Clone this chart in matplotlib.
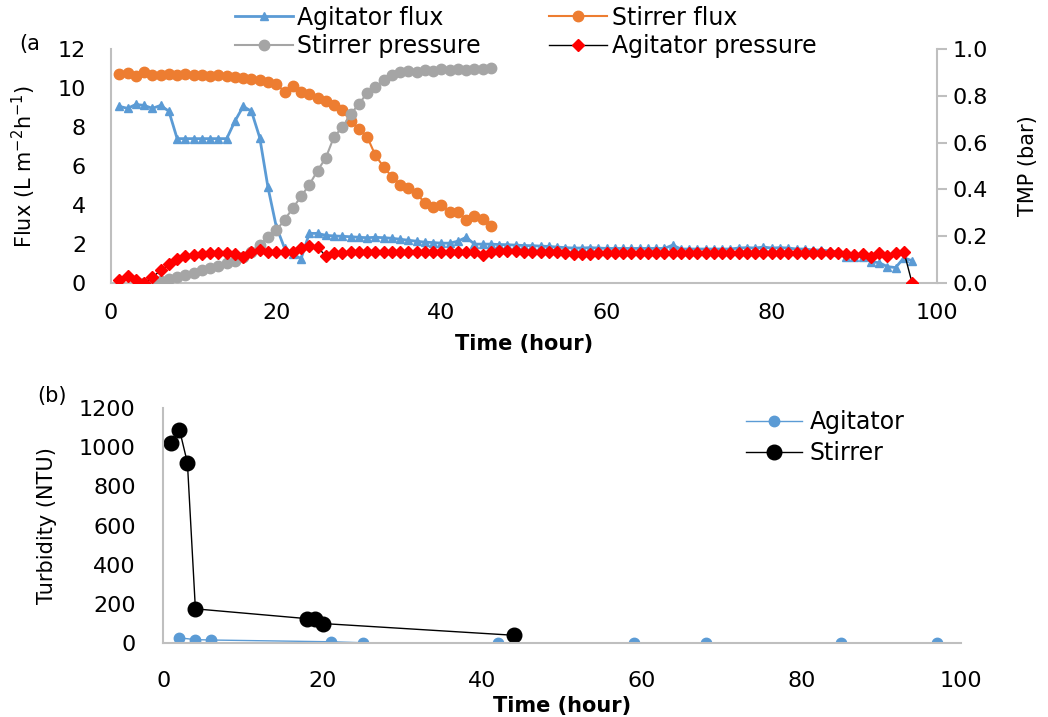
import numpy as np
import matplotlib
matplotlib.use("Agg")
import matplotlib.pyplot as plt

plt.rcParams['font.family'] = ['DejaVu Sans']

# ---- panel (a) data ----
agit_hours = np.arange(1, 98)
agit_flux = [9.05, 8.95, 9.15, 9.1, 8.95, 9.1, 8.8, 7.4, 7.4, 7.4,
             7.4, 7.4, 7.4, 7.4, 8.3, 9.05, 8.8, 7.45, 4.9, 2.9,
             1.8, 1.5, 1.25, 2.55, 2.55, 2.45, 2.42, 2.4, 2.38, 2.35,
             2.33, 2.35, 2.33, 2.3, 2.25, 2.2, 2.15, 2.1, 2.08, 2.05,
             2.05, 2.15, 2.35, 2.0, 2.0, 2.0, 1.98, 1.97, 1.95, 1.93,
             1.92, 1.9, 1.88, 1.85, 1.82, 1.8, 1.8, 1.82, 1.8, 1.78,
             1.78, 1.78, 1.78, 1.78, 1.78, 1.78, 1.78, 1.95, 1.75, 1.75,
             1.75, 1.75, 1.75, 1.75, 1.75, 1.8, 1.82, 1.8, 1.85, 1.8,
             1.82, 1.8, 1.75, 1.75, 1.7, 1.7, 1.65, 1.6, 1.35, 1.35,
             1.35, 1.1, 1.05, 0.85, 0.8, 1.3, 1.15]
agit_tmp = [0.015, 0.03, 0.015, 0.0, 0.025, 0.055, 0.08, 0.105, 0.115, 0.12,
            0.125, 0.13, 0.13, 0.13, 0.125, 0.11, 0.135, 0.14, 0.135, 0.135,
            0.135, 0.135, 0.15, 0.16, 0.155, 0.115, 0.13, 0.13, 0.132, 0.133,
            0.133, 0.133, 0.133, 0.134, 0.134, 0.134, 0.134, 0.135, 0.135, 0.135,
            0.135, 0.135, 0.135, 0.135, 0.12, 0.135, 0.138, 0.137, 0.136, 0.135,
            0.135, 0.134, 0.133, 0.132, 0.13, 0.125, 0.123, 0.125, 0.127, 0.127,
            0.127, 0.127, 0.127, 0.127, 0.127, 0.127, 0.127, 0.127, 0.127, 0.127,
            0.127, 0.127, 0.127, 0.127, 0.127, 0.127, 0.127, 0.127, 0.127, 0.127,
            0.127, 0.127, 0.127, 0.127, 0.127, 0.127, 0.127, 0.127, 0.125, 0.12,
            0.125, 0.11, 0.128, 0.115, 0.128, 0.135, 0.0]

stir_hours = np.arange(1, 47)
stir_flux = [10.7, 10.75, 10.6, 10.8, 10.65, 10.68, 10.7, 10.68, 10.7, 10.68,
             10.65, 10.62, 10.65, 10.6, 10.55, 10.5, 10.45, 10.4, 10.3, 10.2,
             9.8, 10.1, 9.8, 9.7, 9.5, 9.35, 9.1, 8.85, 8.3, 7.9,
             7.5, 6.55, 5.95, 5.45, 5.05, 4.85, 4.6, 4.1, 3.9, 4.0,
             3.65, 3.65, 3.25, 3.45, 3.3, 2.95]

stir_p_hours = np.arange(4, 47)
stir_tmp = [0.0, 0.005, 0.01, 0.02, 0.025, 0.035, 0.045, 0.055, 0.065, 0.075,
            0.085, 0.095, 0.11, 0.135, 0.165, 0.195, 0.225, 0.27, 0.32, 0.37,
            0.42, 0.48, 0.535, 0.625, 0.665, 0.72, 0.765, 0.81, 0.835, 0.865,
            0.89, 0.9, 0.905, 0.9, 0.91, 0.905, 0.915, 0.91, 0.915, 0.91,
            0.915, 0.915, 0.92]

# ---- panel (b) data ----
turb_agit_t = [2, 4, 6, 21, 25, 42, 59, 68, 85, 97]
turb_agit = [27, 18, 16, 7, 2, 2, 1, 1, 1, 1]
turb_stir_t = [1, 2, 3, 4, 18, 19, 20, 44]
turb_stir = [1020, 1090, 920, 175, 125, 125, 100, 40]

BLUE = '#5B9BD5'
ORANGE = '#ED7D31'
GRAY = '#A5A5A5'
RED = '#FF0000'
SPINE = '#BFBFBF'

fig = plt.figure(figsize=(10.48, 7.17), dpi=100)

# ---------------- (a) ----------------
ax = fig.add_axes([0.106, 0.605, 0.788, 0.327])
ax2 = ax.twinx()

l1, = ax.plot(agit_hours, agit_flux, color=BLUE, lw=2, marker='^', ms=6,
              label='Agitator flux')
l2, = ax.plot(stir_hours, stir_flux, color=ORANGE, lw=1.5, marker='o', ms=7.5,
              label='Stirrer flux')
l3, = ax2.plot(stir_p_hours, stir_tmp, color=GRAY, lw=1.5, marker='o', ms=7.5,
               label='Stirrer pressure')
l4, = ax2.plot(agit_hours, agit_tmp, color='black', lw=1, marker='D', ms=6.5,
               mfc=RED, mec=RED, label='Agitator pressure')

ax.set_xlim(0, 100)
ax.set_ylim(0, 12)
ax2.set_ylim(0, 1.0)
ax.set_xticks(range(0, 101, 20))
ax.set_yticks(range(0, 13, 2))
ax2.set_yticks(np.arange(0, 1.01, 0.2))
ax2.set_yticklabels([f'{v:.1f}' for v in np.arange(0, 1.01, 0.2)])

for a in (ax, ax2):
    for s in a.spines.values():
        s.set_color(SPINE)
        s.set_linewidth(1.5)
    a.spines['top'].set_visible(False)
ax.spines['right'].set_visible(False)
ax2.spines['left'].set_visible(False)
ax2.spines['bottom'].set_visible(False)
ax.tick_params(axis='x', length=0, labelsize=16, pad=14)
ax.tick_params(axis='y', length=0, labelsize=16, pad=18)
ax2.tick_params(axis='y', length=7, width=1.5, color=SPINE, labelsize=16, pad=4)

ax.set_xlabel('Time (hour)', fontsize=15, fontweight='bold', labelpad=8)
ax.set_ylabel('Flux (L m$^{\\mathregular{-2}}$h$^{\\mathregular{-1}}$)',
              fontsize=15, labelpad=14)
ax2.set_ylabel('TMP (bar)', fontsize=15, labelpad=22)

fig.legend([l1, l3, l2, l4],
           ['Agitator flux', 'Stirrer pressure', 'Stirrer flux', 'Agitator pressure'],
           ncol=2, loc='upper left', bbox_to_anchor=(0.224, 0.992), frameon=False,
           fontsize=17, handlelength=2.45, columnspacing=2.9, labelspacing=0.2,
           handletextpad=0.2, borderpad=0, borderaxespad=0)
fig.text(0.018, 0.93, '(a', fontsize=15)

# ---------------- (b) ----------------
bx = fig.add_axes([0.156, 0.103, 0.761, 0.328])
bx.plot(turb_agit_t, turb_agit, color=BLUE, lw=1, marker='o', ms=7.5,
        label='Agitator')
bx.plot(turb_stir_t, turb_stir, color='black', lw=1, marker='o', ms=10.5,
        label='Stirrer')
bx.set_xlim(0, 100)
bx.set_ylim(0, 1200)
bx.set_xticks(range(0, 101, 20))
bx.set_yticks(range(0, 1201, 200))
for s in bx.spines.values():
    s.set_color(SPINE)
    s.set_linewidth(1.5)
bx.spines['top'].set_visible(False)
bx.spines['right'].set_visible(False)
bx.tick_params(axis='x', length=0, labelsize=16, pad=20)
bx.tick_params(axis='y', length=0, labelsize=16, pad=20)
bx.set_xlabel('Time (hour)', fontsize=15, fontweight='bold', labelpad=4)
bx.set_ylabel('Turbidity (NTU)', fontsize=15, labelpad=16)
bx.legend(loc='upper left', bbox_to_anchor=(0.73, 0.99), frameon=False,
          fontsize=17, handlelength=2.4, handletextpad=0.3, labelspacing=0.3,
          borderpad=0, borderaxespad=0)
fig.text(0.036, 0.44, '(b)', fontsize=15)

fig.savefig('out.png', dpi=100)
